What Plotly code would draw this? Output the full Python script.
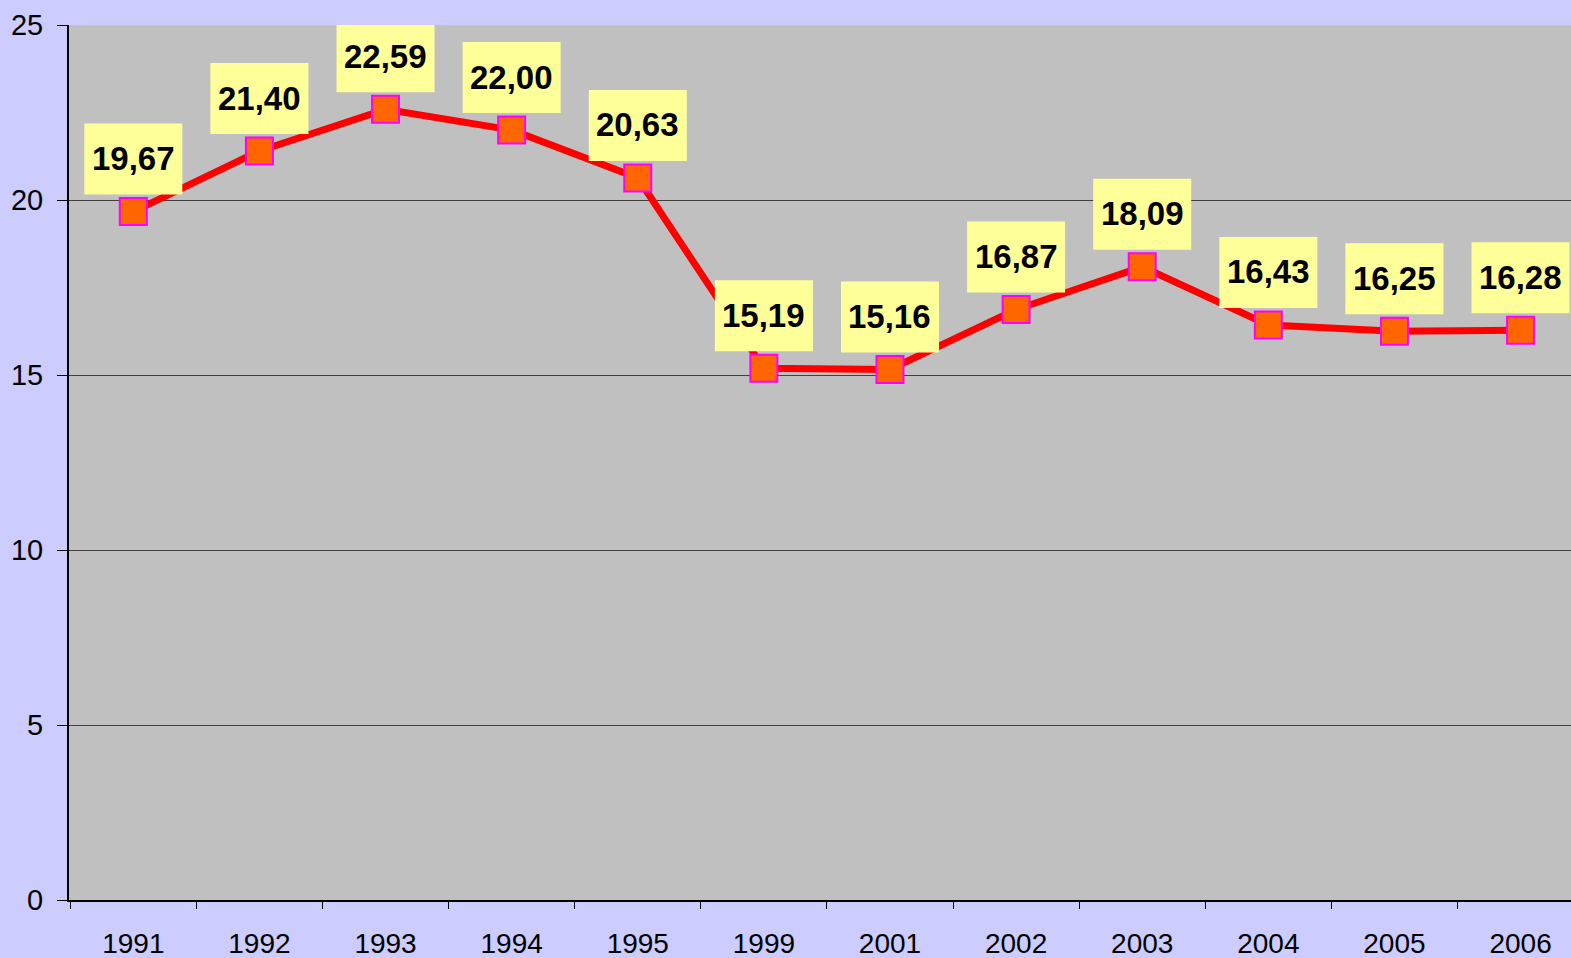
import plotly.graph_objects as go

years = ["1991", "1992", "1993", "1994", "1995", "1999", "2001", "2002", "2003", "2004", "2005", "2006"]
values = [19.67, 21.40, 22.59, 22.00, 20.63, 15.19, 15.16, 16.87, 18.09, 16.43, 16.25, 16.28]
y_ticks = [0, 5, 10, 15, 20, 25]

fig = go.Figure()
fig.add_trace(go.Scatter(
    x=years, y=values, mode="lines+markers",
    line=dict(color="#ff0000", width=7),
    marker=dict(symbol="square", size=27, color="#ff6600",
                line=dict(color="#ff00ff", width=2)),
    cliponaxis=False,
    hoverinfo="skip",
))

for i, v in enumerate(values):
    # yellow label box, sized in pixels and anchored on the data point
    fig.add_shape(
        type="rect", xref="x", yref="y",
        xsizemode="pixel", ysizemode="pixel",
        xanchor=i, yanchor=v,
        x0=-49, x1=49, y0=17, y1=88,
        fillcolor="#ffff99", line=dict(width=0), layer="above",
    )
    fig.add_annotation(
        x=i, y=v, xref="x", yref="y",
        text="<b>" + f"{v:.2f}".replace(".", ",") + "</b>",
        showarrow=False, yanchor="middle", xanchor="center", yshift=53,
        font=dict(family="Liberation Sans, Arial", size=33, color="#000000"),
    )

fig.update_layout(
    width=1571, height=958,
    margin=dict(l=69, r=0, t=25, b=58),
    paper_bgcolor="#ccccff",
    plot_bgcolor="#c0c0c0",
    showlegend=False,
    font=dict(family="Liberation Sans, Arial", color="#000000"),
)
fig.update_xaxes(
    type="category", range=[-0.51, 11.40], automargin=False,
    tickson="boundaries", ticks="outside", ticklen=7, tickcolor="#000000",
    showline=True, linecolor="#000000", linewidth=2,
    showgrid=False, zeroline=False,
    tickfont=dict(size=28, color="#000000"),
    ticklabelstandoff=17,
)
fig.update_yaxes(
    range=[0, 25], tickvals=y_ticks, ticktext=[str(t) for t in y_ticks],
    automargin=False,
    ticks="outside", ticklen=10, tickcolor="#000000",
    showline=True, linecolor="#000000", linewidth=2,
    showgrid=True, gridcolor="#404040", gridwidth=1, zeroline=False,
    tickfont=dict(size=29, color="#000000"),
    ticklabelstandoff=8,
)

fig.write_html(
    "out.html",
    config={"displayModeBar": False},
    post_script="document.body.style.margin='0';document.body.style.overflow='hidden';",
)
